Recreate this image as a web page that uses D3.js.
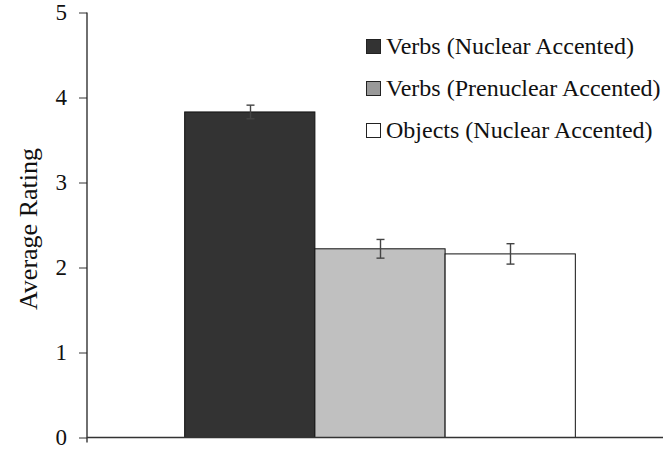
<!DOCTYPE html>
<html>
<head>
<meta charset="utf-8">
<script src="https://cdn.jsdelivr.net/npm/d3@7"></script>
<style>
  body { margin: 0; background: #fff; }
  svg text { font-family: "Liberation Serif", "DejaVu Serif", serif !important; }
</style>
</head>
<body>
<svg width="663" height="449"></svg>
<script>
// data
let series = ["Verbs (Nuclear Accented)", "Verbs (Prenuclear Accented)", "Objects (Nuclear Accented)"];
let values = [3.83, 2.22, 2.16];
let errors = [0.08, 0.11, 0.12];
let yTicks = [0, 1, 2, 3, 4, 5];
let barColors = ["#333333", "#c0c0c0", "#ffffff"];
let swatchColors = ["#333333", "#999999", "#ffffff"];

let margin = { top: 12.5, left: 87, bottom: 11.5 },
  width = 663,
  height = 449;

let svg = d3.select("svg");

let y = d3.scaleLinear().domain([0, 5]).range([height - margin.bottom, margin.top]);

let x0 = d3.scaleBand().domain(["all"]).range([margin.left, 673]).padding(0.2);
let x1 = d3.scaleBand().domain(series).range([0, x0.bandwidth()]);

// bars
svg.selectAll("rect.bar")
  .data(series)
  .enter()
  .append("rect")
  .attr("class", "bar")
  .attr("x", (d) => x0("all") + x1(d))
  .attr("y", (d, i) => y(values[i]))
  .attr("width", x1.bandwidth())
  .attr("height", (d, i) => y(0) - y(values[i]))
  .attr("fill", (d, i) => barColors[i])
  .attr("stroke", "#111")
  .attr("stroke-width", 1);

// error bars
const errG = svg.append("g").attr("stroke", "#444").attr("stroke-width", 1.4);
series.forEach((s, i) => {
  const cx = Math.round(x0("all") + x1(s) + x1.bandwidth() / 2) + 0.5;
  const top = y(values[i] + errors[i]),
    bot = y(values[i] - errors[i]);
  errG.append("line").attr("x1", cx).attr("x2", cx).attr("y1", top).attr("y2", bot);
  errG.append("line").attr("x1", cx - 4).attr("x2", cx + 4).attr("y1", top).attr("y2", top);
  errG.append("line").attr("x1", cx - 4).attr("x2", cx + 4).attr("y1", bot).attr("y2", bot);
});

// y axis
const yAxis = svg
  .append("g")
  .attr("transform", `translate(${margin.left},0)`)
  .call(d3.axisLeft(y).tickValues(yTicks).tickSize(8).tickPadding(12).tickFormat(d3.format("d")));
yAxis.select(".domain").remove();
yAxis.selectAll(".tick line").attr("stroke", "#333");
yAxis.selectAll(".tick text").attr("font-size", "23px").attr("fill", "#111");

svg.append("line")
  .attr("x1", margin.left).attr("x2", margin.left)
  .attr("y1", margin.top).attr("y2", y(0) + 5)
  .attr("stroke", "#222").attr("stroke-width", 1.3);

// x axis line
svg.append("line")
  .attr("x1", margin.left).attr("x2", width)
  .attr("y1", y(0)).attr("y2", y(0))
  .attr("stroke", "#333").attr("stroke-width", 1.6);

// y label
svg.append("text")
  .attr("transform", `translate(37, ${(margin.top + y(0)) / 2 + 4}) rotate(-90)`)
  .attr("text-anchor", "middle")
  .attr("font-size", "26px")
  .attr("fill", "#111")
  .text("Average Rating");

// legend
const legend = svg.append("g").attr("transform", "translate(366, 39)");
series.forEach((s, i) => {
  const row = legend.append("g").attr("transform", `translate(0, ${i * 42})`);
  row.append("rect")
    .attr("x", 0.5).attr("y", 0.5)
    .attr("width", 14).attr("height", 14)
    .attr("fill", swatchColors[i])
    .attr("stroke", "#222");
  row.append("text")
    .attr("x", 20).attr("y", 15)
    .attr("font-size", "24px")
    .attr("fill", "#111")
    .text(s);
});
</script>
</body>
</html>
